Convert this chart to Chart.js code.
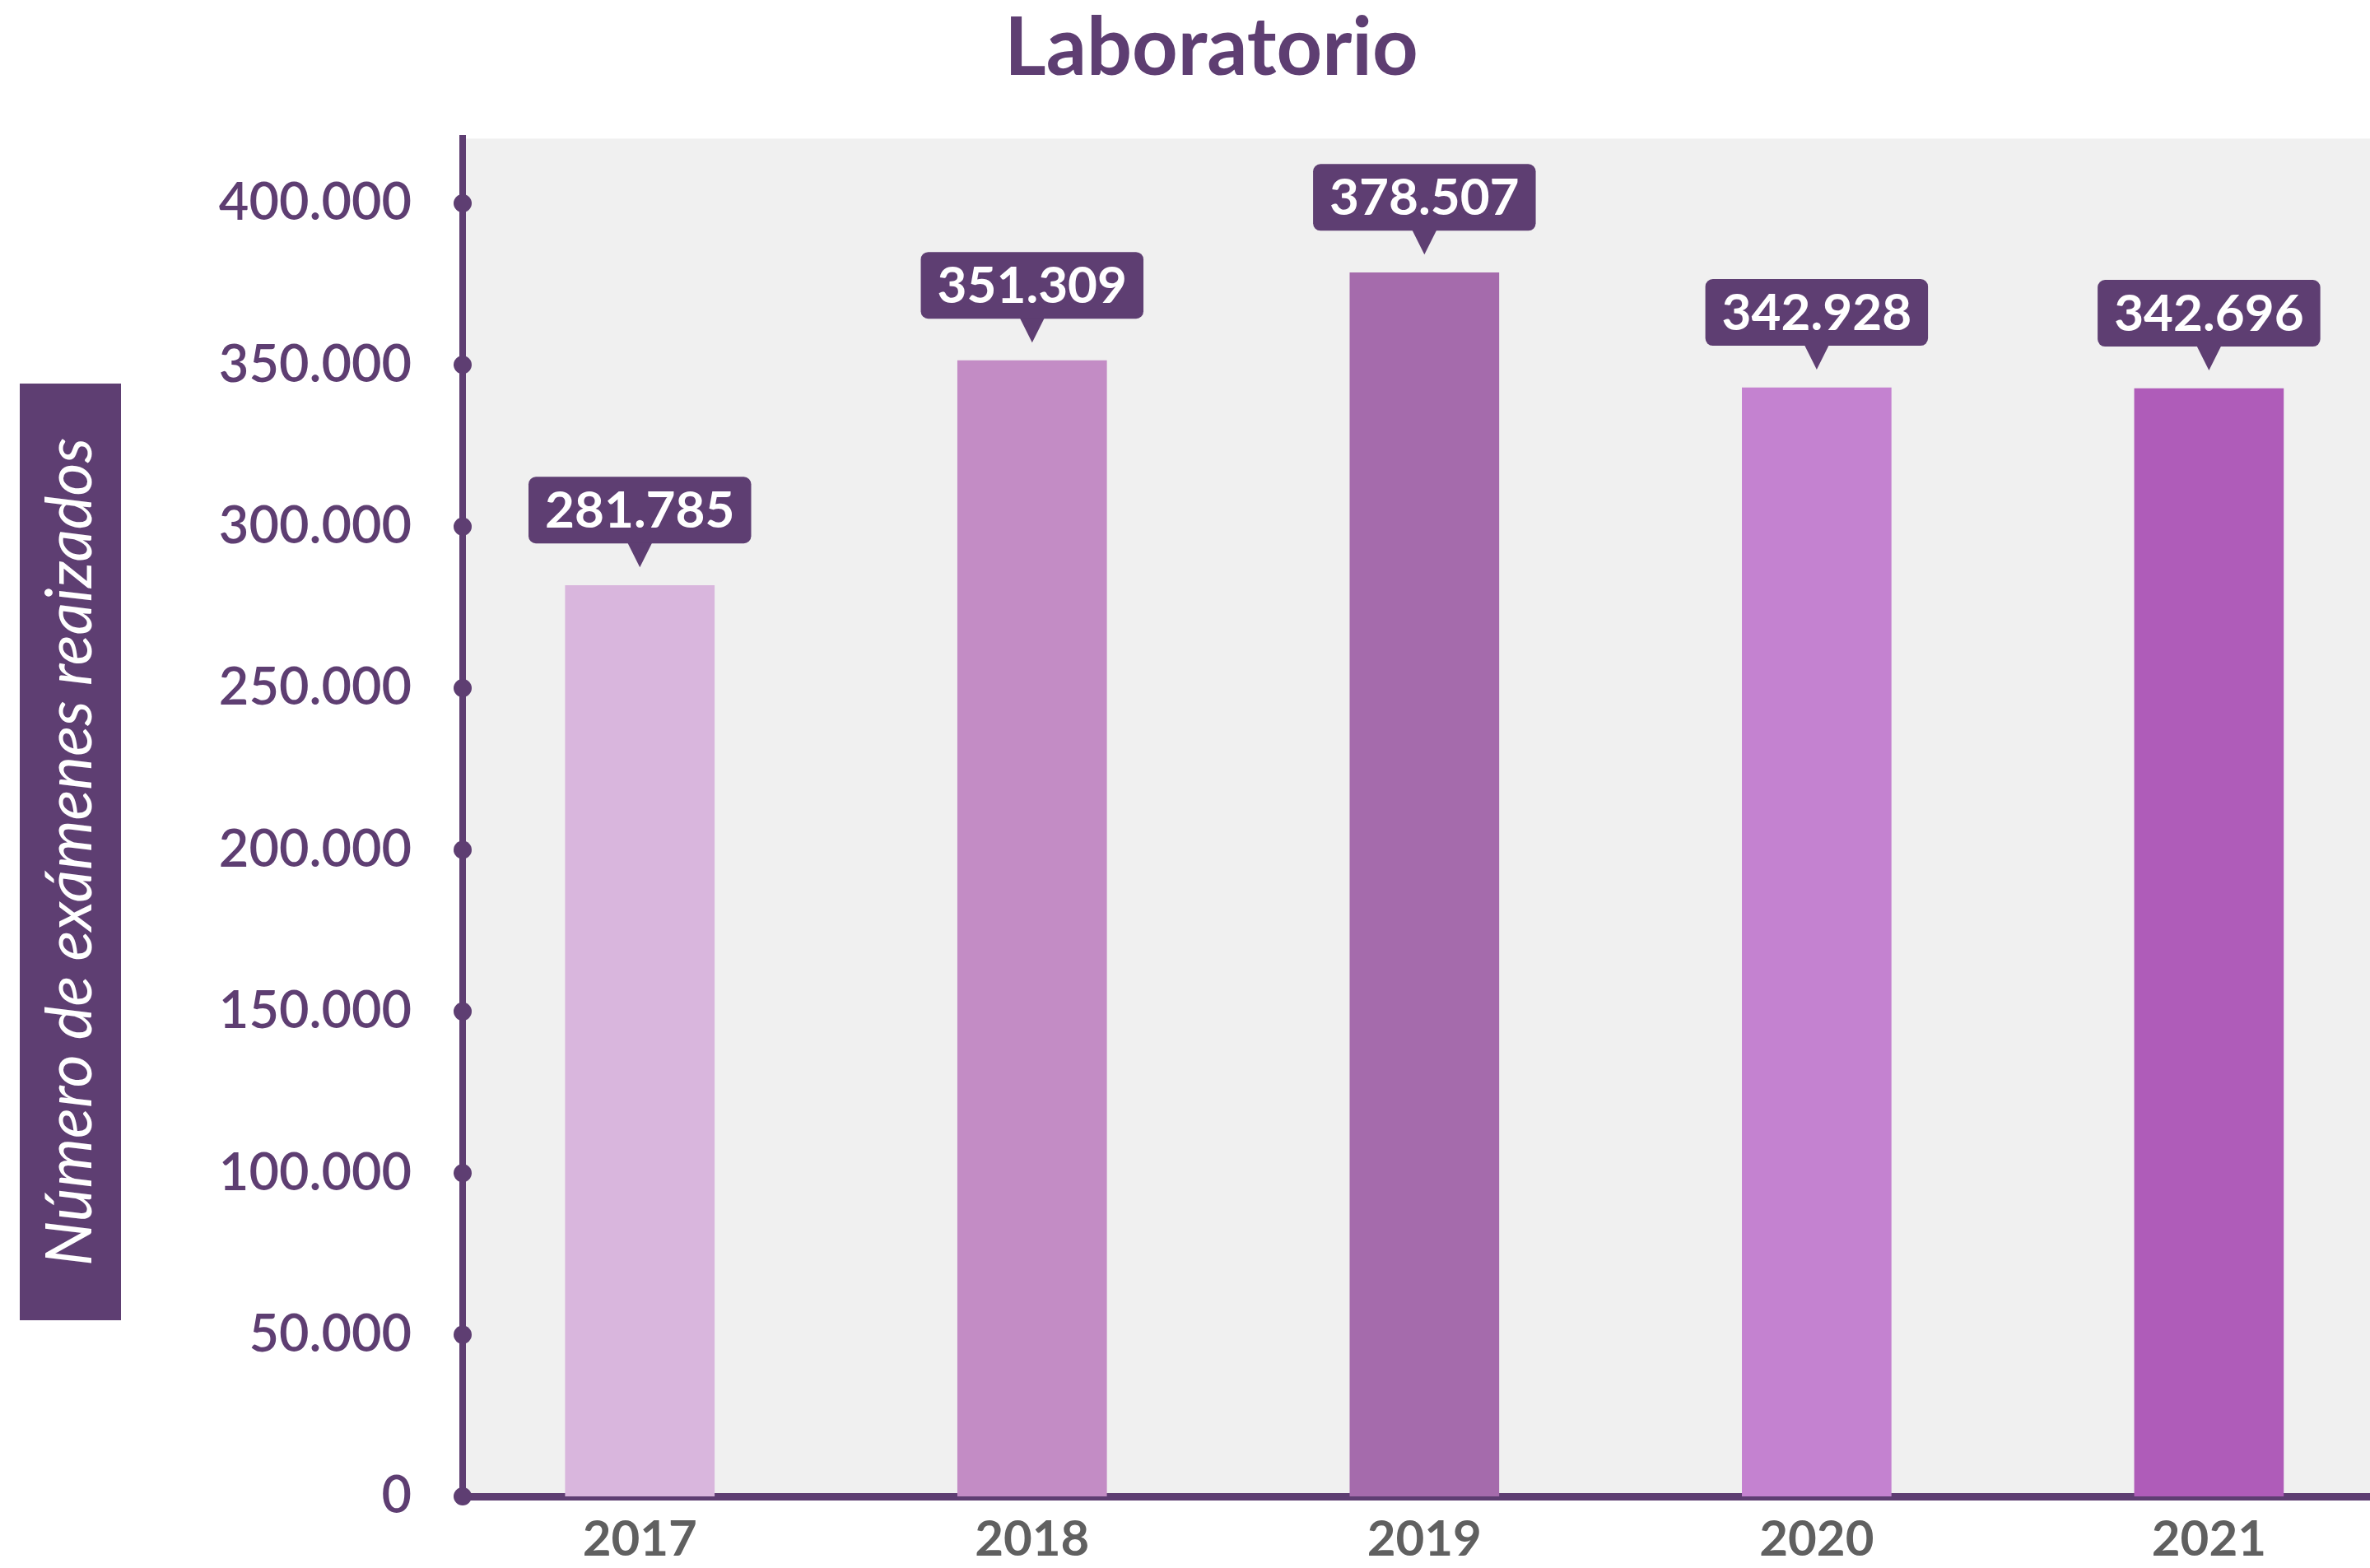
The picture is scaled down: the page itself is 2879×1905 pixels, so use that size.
<!DOCTYPE html>
<html>
<head>
<meta charset="utf-8">
<script src="https://cdn.jsdelivr.net/npm/chart.js@4.4.1/dist/chart.umd.min.js"></script>
<style>
  html, body { margin: 0; padding: 0; background: #ffffff; }
  canvas { display: block; }
</style>
</head>
<body>
<canvas id="c" width="2879" height="1905"></canvas>
<script>
const chartTitle = 'Laboratorio';
const yAxisTitle = 'Número de exámenes reaizados';
const categories = ['2017', '2018', '2019', '2020', '2021'];
const values = [281785, 351309, 378507, 342928, 342696];
const barColors = ['#D9B6DD', '#C38CC5', '#A56BAC', '#C482D0', '#AF5CB9'];
const yTicks = [0, 50000, 100000, 150000, 200000, 250000, 300000, 350000, 400000];

const PURPLE = '#5E3E72';
const FONT = 'Lato';

function fmt(v) {
  return String(Math.round(v)).replace(/\B(?=(\d{3})+(?!\d))/g, '.');
}

const bgPlugin = {
  id: 'plotBg',
  beforeDraw(chart) {
    const { ctx, chartArea: a } = chart;
    ctx.save();
    ctx.fillStyle = '#F0F0F0';
    ctx.fillRect(a.left, a.top, a.right - a.left, a.bottom - a.top);
    // y-axis title box
    ctx.fillStyle = PURPLE;
    ctx.fillRect(24, 466, 123, 1138);
    ctx.translate(86, 1035);
    ctx.rotate(-Math.PI / 2);
    ctx.fillStyle = '#ffffff';
    ctx.font = 'italic 400 77px ' + FONT;
    ctx.textAlign = 'center';
    ctx.textBaseline = 'middle';
    ctx.fillText(yAxisTitle, 0, 0);
    ctx.restore();
  }
};

const dotsPlugin = {
  id: 'axisDots',
  afterDraw(chart) {
    const { ctx, chartArea: a } = chart;
    const y = chart.scales.y;
    ctx.save();
    ctx.fillStyle = PURPLE;
    y.ticks.forEach(t => {
      const py = y.getPixelForValue(t.value);
      ctx.beginPath();
      ctx.arc(a.left, py, 11, 0, Math.PI * 2);
      ctx.fill();
    });
    ctx.restore();
  }
};

const labelPlugin = {
  id: 'calloutLabels',
  afterDatasetsDraw(chart) {
    const { ctx } = chart;
    const meta = chart.getDatasetMeta(0);
    ctx.save();
    ctx.font = 'bold 62px ' + FONT;
    ctx.textAlign = 'center';
    ctx.textBaseline = 'middle';
    meta.data.forEach((bar, i) => {
      const text = fmt(values[i]);
      const tw = ctx.measureText(text).width;
      const w = tw + 40;
      const h = 81;
      const tipY = bar.y - 22;
      const baseY = tipY - 29;
      const top = baseY - h;
      const left = bar.x - w / 2;
      ctx.fillStyle = PURPLE;
      ctx.beginPath();
      ctx.roundRect(left, top, w, h, 9);
      ctx.fill();
      ctx.beginPath();
      ctx.moveTo(bar.x - 15, baseY - 1);
      ctx.lineTo(bar.x + 15, baseY - 1);
      ctx.lineTo(bar.x, tipY);
      ctx.closePath();
      ctx.fill();
      ctx.fillStyle = '#ffffff';
      ctx.fillText(text, bar.x, top + h / 2 + 1);
    });
    ctx.restore();
  }
};

new Chart(document.getElementById('c'), {
  type: 'bar',
  data: {
    datasets: [{
      data: categories.map((c, i) => ({ x: i, y: values[i] })),
      backgroundColor: barColors,
      borderWidth: 0,
      barThickness: 181
    }]
  },
  options: {
    responsive: false,
    devicePixelRatio: 1,
    animation: false,
    layout: { padding: { left: 64, right: 0, top: 0, bottom: 0 } },
    plugins: {
      legend: { display: false },
      tooltip: { enabled: false },
      title: {
        display: true,
        text: chartTitle,
        color: PURPLE,
        font: { family: FONT, size: 97, weight: 'bold', lineHeight: 1.2 },
        padding: { top: 2, bottom: 50 }
      }
    },
    scales: {
      x: {
        type: 'linear',
        offset: false,
        min: -0.4517,
        max: 4.4105,
        afterBuildTicks(scale) {
          scale.ticks = categories.map((c, i) => ({ value: i }));
        },
        afterFit(scale) { scale.height = 87; },
        grid: { display: false, drawTicks: false },
        border: { display: true, color: PURPLE, width: 9 },
        ticks: {
          autoSkip: false,
          maxRotation: 0,
          padding: 17,
          color: '#606060',
          font: { family: FONT, size: 60, weight: 'bold' },
          callback: v => categories[v]
        }
      },
      y: {
        min: 0,
        max: 420000,
        afterBuildTicks(scale) {
          scale.ticks = yTicks.map(v => ({ value: v }));
        },
        afterFit(scale) {
          scale.width = 498;
          scale.paddingTop = 0;
          scale.paddingBottom = 0;
        },
        grid: { display: false, drawTicks: false },
        border: { display: true, color: PURPLE, width: 8 },
        ticks: {
          padding: 62,
          color: PURPLE,
          font: { family: FONT, size: 63, weight: '600' },
          callback: v => fmt(v)
        }
      }
    }
  },
  plugins: [bgPlugin, dotsPlugin, labelPlugin]
});
</script>
</body>
</html>
